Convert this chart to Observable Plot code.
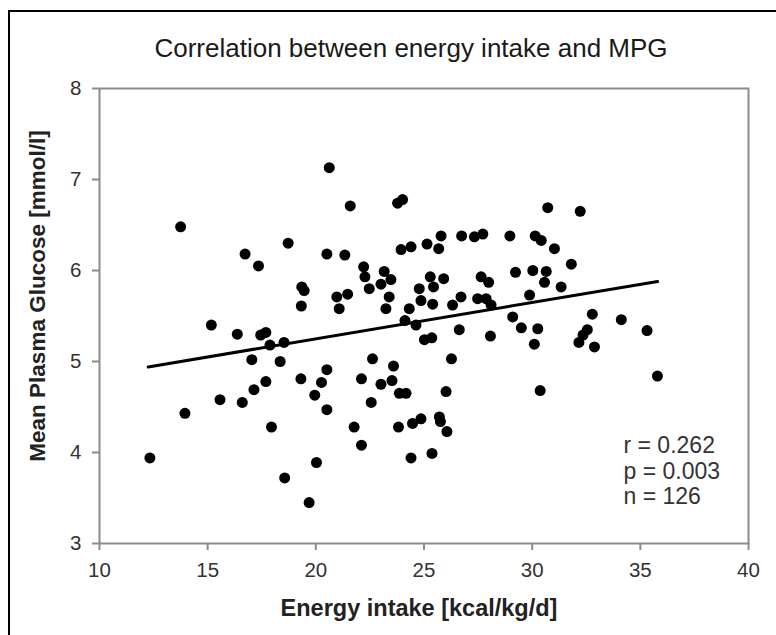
<!DOCTYPE html>
<html>
<head>
<meta charset="utf-8">
<script src="https://cdn.jsdelivr.net/npm/d3@7"></script>
<script src="https://cdn.jsdelivr.net/npm/@observablehq/plot@0.6"></script>
<style>
  html, body { margin: 0; padding: 0; background: #fff; }
  #wrap { position: relative; width: 776px; height: 635px; overflow: hidden; background: #fff; }
  #border { position: absolute; left: 8px; top: 10px; width: 800px; height: 700px; border: 2px solid #000; box-sizing: border-box; }
  #chart { position: absolute; left: 0; top: 0; }
</style>
</head>
<body>
<div id="wrap"><div id="border"></div><div id="chart"></div></div>
<script>
const titleText = "Correlation between energy intake and MPG";
const xLabel = "Energy intake [kcal/kg/d]";
const yLabel = "Mean Plasma Glucose [mmol/l]";
const statsLines = ["r = 0.262", "p = 0.003", "n = 126"];
const xTicks = [10, 15, 20, 25, 30, 35, 40];
const yTicks = [3, 4, 5, 6, 7, 8];

// Energy intake (kcal/kg/d)
const energy = [
  13.75, 16.73, 17.35, 18.72, 19.35, 19.46, 20.62, 21.59, 23.78, 24.01,
  25.79, 26.74, 27.33, 27.72, 28.97, 20.51, 21.34, 23.94, 24.40, 25.14,
  25.68, 29.23, 22.21, 22.27, 23.16, 23.47, 22.47, 23.01, 25.29, 25.44,
  25.91, 27.64, 27.99, 20.97, 21.47, 23.39, 24.78, 26.71, 27.48, 27.87,
  30.72, 32.22, 30.14, 30.42, 31.03, 31.81, 30.03, 30.65, 30.57, 31.34,
  29.88, 15.17, 16.37, 17.45, 17.69, 17.88, 18.53, 19.33, 17.04, 18.35,
  19.31, 17.69, 17.14, 15.57, 16.60, 13.95, 17.95, 12.33, 18.56, 19.69,
  20.03, 21.08, 23.24, 24.32, 24.86, 25.40, 26.32, 28.10, 29.10, 29.50,
  24.12, 24.63, 25.02, 25.36, 26.63, 28.07, 22.62, 26.27, 20.51, 20.26,
  19.95, 20.51, 22.11, 23.59, 23.01, 23.52, 23.86, 24.17, 22.56, 26.02,
  21.77, 22.11, 23.82, 24.47, 24.86, 25.71, 25.76, 26.06, 24.40, 25.37,
  30.26, 30.10, 32.78, 32.55, 32.35, 32.16, 32.88, 34.12, 35.31, 35.79,
  30.37
];
// Mean plasma glucose (mmol/l)
const glucose = [
  6.48, 6.18, 6.05, 6.30, 5.82, 5.78, 7.13, 6.71, 6.74, 6.78,
  6.38, 6.38, 6.37, 6.40, 6.38, 6.18, 6.17, 6.23, 6.26, 6.29,
  6.24, 5.98, 6.04, 5.93, 5.99, 5.90, 5.80, 5.85, 5.93, 5.82,
  5.91, 5.93, 5.87, 5.71, 5.74, 5.71, 5.80, 5.71, 5.69, 5.69,
  6.69, 6.65, 6.38, 6.33, 6.24, 6.07, 6.00, 5.99, 5.87, 5.82,
  5.73, 5.40, 5.30, 5.29, 5.32, 5.18, 5.21, 5.61, 5.02, 5.00,
  4.81, 4.78, 4.69, 4.58, 4.55, 4.43, 4.28, 3.94, 3.72, 3.45,
  3.89, 5.58, 5.58, 5.58, 5.67, 5.63, 5.62, 5.62, 5.49, 5.37,
  5.45, 5.40, 5.24, 5.26, 5.35, 5.28, 5.03, 5.03, 4.91, 4.77,
  4.63, 4.47, 4.81, 4.95, 4.75, 4.79, 4.65, 4.65, 4.55, 4.67,
  4.28, 4.08, 4.28, 4.32, 4.37, 4.39, 4.34, 4.23, 3.94, 3.99,
  5.36, 5.19, 5.52, 5.35, 5.29, 5.21, 5.16, 5.46, 5.34, 4.84,
  4.68
];
// Regression line end points
const fitX = [12.25, 35.8];
const fitY = [4.94, 5.88];

const points = energy.map((x, i) => ({x, y: glucose[i]}));
const fit = fitX.map((x, i) => ({x, y: fitY[i]}));

const W = 776, H = 635;
const FONT = "'Liberation Sans', Arial, Helvetica, sans-serif";
const AXIS = "#8c8c8c";

const chart = Plot.plot({
  width: W,
  height: H,
  marginLeft: 99,
  marginRight: 28,
  marginTop: 88,
  marginBottom: 92,
  style: {fontFamily: FONT, background: "transparent", color: "#222"},
  x: {domain: [10, 40], ticks: xTicks, label: null},
  y: {domain: [3, 8], ticks: yTicks, label: null},
  marks: [
    Plot.frame({stroke: AXIS, strokeWidth: 2}),
    Plot.axisX({ticks: xTicks, tickFormat: d => String(d), tickSize: 7, tickPadding: 12, stroke: AXIS, strokeWidth: 2, fill: "#333", fontSize: 20.5, label: null}),
    Plot.axisY({ticks: yTicks, tickFormat: d => String(d), tickSize: 7, tickPadding: 11, stroke: AXIS, strokeWidth: 2, fill: "#333", fontSize: 20.5, label: null}),
    Plot.dot(points, {x: "x", y: "y", r: 5.5, fill: "#000", stroke: "none"}),
    Plot.line(fit, {x: "x", y: "y", stroke: "#000", strokeWidth: 3}),
    Plot.text([statsLines.join("\n")], {frameAnchor: "bottom-left", dx: 524, dy: -73, textAnchor: "start", lineAnchor: "middle", lineHeight: 1.09, fontSize: 23, fill: "#333"}),
    Plot.text([titleText], {frameAnchor: "top", dx: -13, dy: -40, textAnchor: "middle", lineAnchor: "middle", fontSize: 26, fill: "#1a1a1a"}),
    Plot.text([xLabel], {frameAnchor: "bottom", dx: -5, dy: 65, textAnchor: "middle", lineAnchor: "middle", fontSize: 23.5, fontWeight: "bold", fill: "#222"}),
    Plot.text([yLabel], {frameAnchor: "left", dx: -62, dy: -20, textAnchor: "middle", lineAnchor: "middle", rotate: -90, fontSize: 22.5, fontWeight: "bold", fill: "#222"})
  ]
});
document.getElementById("chart").appendChild(chart);
</script>
</body>
</html>
